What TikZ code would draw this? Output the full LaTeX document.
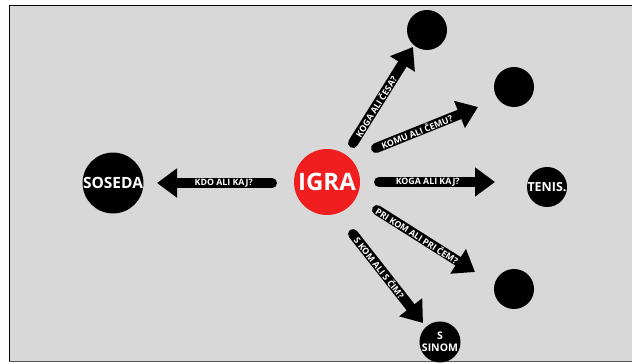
\documentclass[tikz,border=0pt]{standalone}
\usepackage{fontspec}
\setmainfont{Open Sans}
\usetikzlibrary{arrows.meta}
\definecolor{bg}{RGB}{216,216,216}
\definecolor{igrared}{RGB}{240,30,30}
\begin{document}
\begin{tikzpicture}[x=1pt,y=-1pt,
  dot/.style={circle,fill=black,inner sep=0pt,minimum size=#1,text=white,font=\bfseries,align=center},
  bigarrow/.style={line width=10pt,line cap=round,-{Triangle[length=20pt,width=28pt]}},
  lab/.style={sloped,text=white,font=\bfseries\fontsize{8.8}{9}\selectfont,inner sep=0pt}]
\useasboundingbox (0,0) rectangle (632,363);
\fill[bg] (9,5) rectangle (632,362);
\draw[black,line width=1.6pt] (9.5,362) -- (9.5,5.5) -- (632,5.5);
\draw[gray!70!black,line width=1.2pt] (9,361.6) -- (632,361.6);
% nodes
\node[circle,fill=igrared,minimum size=66pt,inner sep=0pt,text=white,font=\bfseries\fontsize{24}{26}\selectfont] (igra) at (327,182) {IGRA};
\node[dot=58pt,font=\bfseries\fontsize{15.5}{16}\selectfont] (soseda) at (113,183) {SOSEDA};
\node[dot=40pt] (c1) at (427,30) {};
\node[dot=40pt] (c2) at (514,87) {};
\node[dot=40pt,font=\bfseries\fontsize{12.5}{13}\selectfont] (tenis) at (547,187) {TENIS.};
\node[dot=40pt,font=\bfseries\fontsize{10.5}{12}\selectfont] (sinom) at (440,342) {S\\SINOM};
\node[dot=40pt] (c4) at (514,289) {};
% arrow endpoints
\coordinate (t0) at (272,183); \coordinate (h0) at (157,183);
\coordinate (t1) at (353,143); \coordinate (h1) at (413,47);
\coordinate (t2) at (376,148); \coordinate (h2) at (478,107);
\coordinate (t3) at (379,182); \coordinate (h3) at (495,182);
\coordinate (t4) at (377,210); \coordinate (h4) at (475,272);
\coordinate (t5) at (353,234); \coordinate (h5) at (423,323);
\draw[bigarrow] (t0) -- node[lab,pos=0.42]{KDO ALI KAJ?} (h0);
\draw[bigarrow] (t1) -- node[lab,pos=0.38]{KOGA ALI ČESA?} (h1);
\draw[bigarrow] (t2) -- node[lab,pos=0.4]{KOMU ALI ČEMU?} (h2);
\draw[bigarrow] (t3) -- node[lab,pos=0.42]{KOGA ALI KAJ?} (h3);
\draw[bigarrow] (t4) -- node[lab,pos=0.41]{PRI KOM ALI PRI ČEM?} (h4);
\draw[bigarrow] (t5) -- node[lab,pos=0.38]{S KOM ALI S ČIM?} (h5);
\end{tikzpicture}
\end{document}
